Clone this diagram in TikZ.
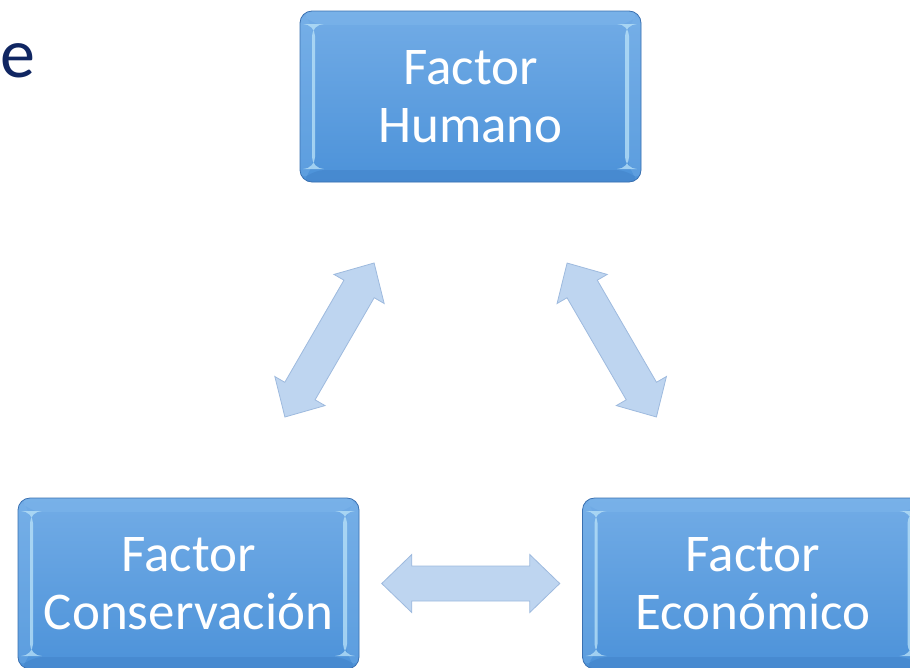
\documentclass[tikz,border=0pt]{standalone}
\usepackage{fontspec}
\setmainfont{Carlito}
\definecolor{boxtop}{RGB}{114,172,230}
\definecolor{boxbot}{RGB}{76,146,217}
\definecolor{boxborder}{RGB}{58,112,176}
\definecolor{bevellight}{RGB}{128,184,236}
\definecolor{beveldark}{RGB}{66,130,200}
\definecolor{bevelhi}{RGB}{188,228,249}
\definecolor{arrowfill}{RGB}{190,213,240}
\definecolor{arrowline}{RGB}{158,186,222}
\definecolor{titlenavy}{RGB}{16,38,98}
\tikzset{
  factor/.style={rectangle, rounded corners=12pt, minimum width=341pt, minimum height=171pt,
    inner sep=0pt, draw=boxborder, line width=0.8pt, top color=boxtop, bottom color=boxbot,
    text=white, font=\fontsize{53}{58}\selectfont, align=center,
    path picture={
      % top band
      \fill[bevellight, opacity=0.45] (path picture bounding box.north west) -- ([xshift=13pt,yshift=-14pt]path picture bounding box.north west)
        -- ([xshift=-13pt,yshift=-14pt]path picture bounding box.north east) -- (path picture bounding box.north east) -- cycle;
      % bottom band
      \fill[beveldark, opacity=0.5] (path picture bounding box.south west) -- ([xshift=13pt,yshift=12pt]path picture bounding box.south west)
        -- ([xshift=-13pt,yshift=12pt]path picture bounding box.south east) -- (path picture bounding box.south east) -- cycle;
      % left band
      \fill[bevellight, opacity=0.3] (path picture bounding box.north west) -- ([xshift=13pt,yshift=-14pt]path picture bounding box.north west)
        -- ([xshift=13pt,yshift=12pt]path picture bounding box.south west) -- (path picture bounding box.south west) -- cycle;
      % right band
      \fill[bevellight, opacity=0.3] (path picture bounding box.north east) -- ([xshift=-13pt,yshift=-14pt]path picture bounding box.north east)
        -- ([xshift=-13pt,yshift=12pt]path picture bounding box.south east) -- (path picture bounding box.south east) -- cycle;
      % highlights
      \fill[bevelhi, opacity=0.75] ([xshift=12pt,yshift=-13pt]path picture bounding box.north west) rectangle ([xshift=15pt,yshift=13pt]path picture bounding box.south west);
      \fill[bevelhi, opacity=0.75] ([xshift=-16pt,yshift=-13pt]path picture bounding box.north east) rectangle ([xshift=-12pt,yshift=13pt]path picture bounding box.south east);
    }},
  blockarrow/.style={fill=arrowfill, draw=arrowline, line width=0.8pt, line join=miter},
  dblarrow/.pic={
    \path[blockarrow] (-89,0) -- (-59,29) -- (-59,17.5) -- (59,17.5) -- (59,29) -- (89,0)
      -- (59,-29) -- (59,-17.5) -- (-59,-17.5) -- (-59,-29) -- cycle;
  }
}
\begin{document}
\begin{tikzpicture}[x=1pt, y=-1pt]
  \useasboundingbox (0,0) rectangle (910,667);
  \clip (0,0) rectangle (910,667);
  \node[anchor=base west, inner sep=0pt, text=titlenavy, font=\fontsize{70}{84}\selectfont] (title) at (0,77) {e};

  \node[factor] (hum) at (470.5,96.5) {Factor\\Humano};
  \node[factor] (con) at (188.5,583.5) {Factor\\Conservación};
  \node[factor] (eco) at (753,583.5) {Factor\\Económico};

  \path (con.center) -- pic[sloped]{dblarrow} (hum.center);
  \path (eco.center) -- pic[sloped]{dblarrow} (hum.center);
  \path (con.center) -- pic[sloped]{dblarrow} (eco.center);
\end{tikzpicture}
\end{document}
